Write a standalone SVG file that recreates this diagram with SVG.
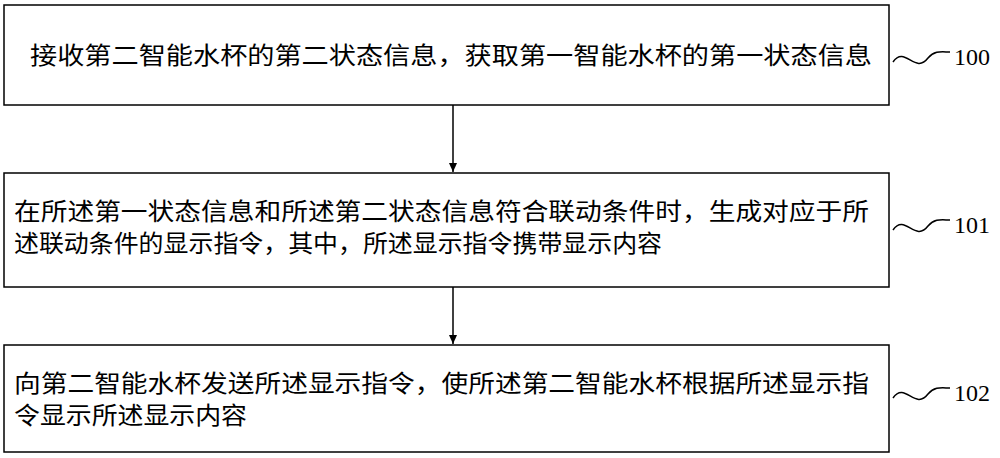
<svg xmlns="http://www.w3.org/2000/svg" width="1000" height="458" viewBox="0 0 1000 458">
<style>
.box{fill:#fff;stroke:#000;stroke-width:1.5}
.t{font-family:"Liberation Serif","Noto Sans CJK SC",serif;font-size:24px;fill:#000}
.n{font-family:"Liberation Serif",serif;font-size:24px;fill:#000}
.c{fill:none;stroke:#000;stroke-width:1.5}
</style>
<defs><marker id="a" markerWidth="10" markerHeight="10" refX="9" refY="5" orient="auto" markerUnits="userSpaceOnUse"><path d="M0,1 L9,5 L0,9 Z" fill="#000"/></marker></defs>
<rect width="1000" height="458" fill="#fff"/>
<g id="n100"><rect class="box" x="4" y="5" width="885" height="100"/>
<text class="t" x="30" y="64" textLength="842" lengthAdjust="spacingAndGlyphs">接收第二智能水杯的第二状态信息，获取第一智能水杯的第一状态信息</text>
<path class="c" d="M893,62 C905,45 915,75 928,58 C935,50 942,52 950,52"/><text class="n" x="954" y="65">100</text></g>
<g id="n101"><rect class="box" x="4" y="173" width="885" height="114"/>
<text class="t" x="14" y="220" textLength="855" lengthAdjust="spacingAndGlyphs">在所述第一状态信息和所述第二状态信息符合联动条件时，生成对应于所</text>
<text class="t" x="14" y="252" textLength="648" lengthAdjust="spacingAndGlyphs">述联动条件的显示指令，其中，所述显示指令携带显示内容</text>
<path class="c" d="M893,230 C905,213 915,243 928,226 C935,218 942,220 950,220"/><text class="n" x="954" y="233">101</text></g>
<g id="n102"><rect class="box" x="4" y="345" width="885" height="107"/>
<text class="t" x="14" y="392" textLength="855" lengthAdjust="spacingAndGlyphs">向第二智能水杯发送所述显示指令，使所述第二智能水杯根据所述显示指</text>
<text class="t" x="14" y="424" textLength="233" lengthAdjust="spacingAndGlyphs">令显示所述显示内容</text>
<path class="c" d="M893,398 C905,381 915,411 928,394 C935,386 942,388 950,388"/><text class="n" x="954" y="401">102</text></g>
<g id="connectors"><line class="c" x1="453" y1="105" x2="453" y2="172" marker-end="url(#a)"/><line class="c" x1="453" y1="287" x2="453" y2="344" marker-end="url(#a)"/></g>
</svg>
